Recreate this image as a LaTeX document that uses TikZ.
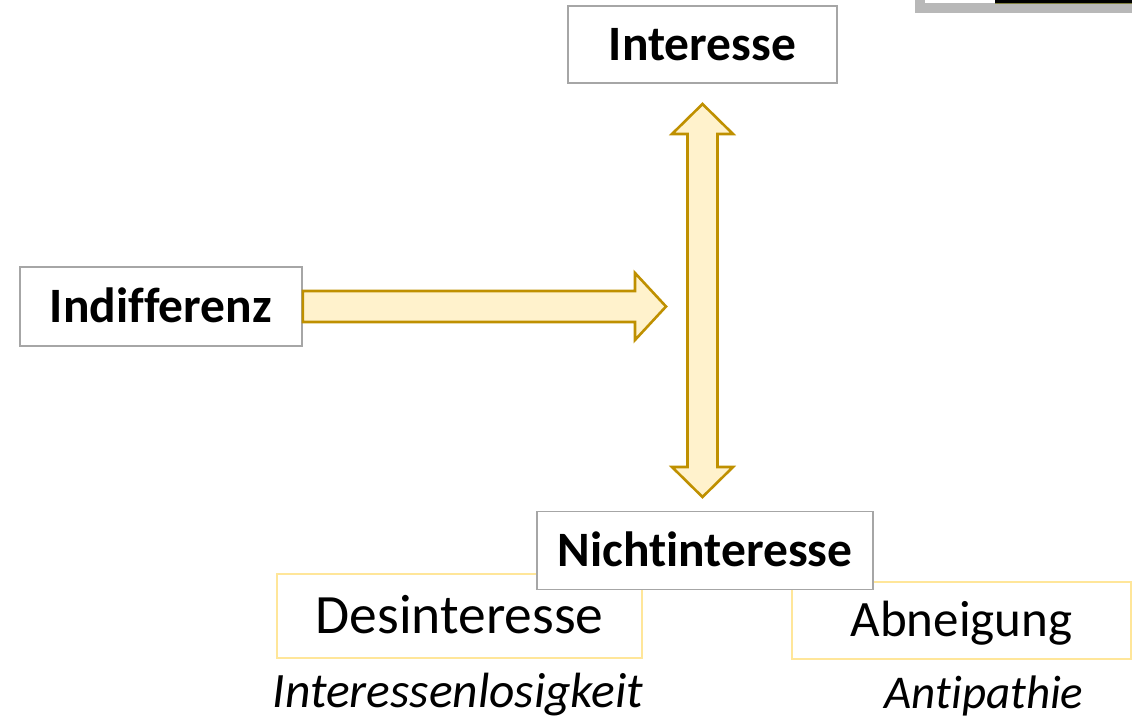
\documentclass[tikz,border=0pt]{standalone}
\usepackage{fontspec}
\setmainfont{Carlito}[Ligatures={NoCommon}]
\usepackage{xcolor}
\usetikzlibrary{positioning, calc}

\definecolor{boxgray}{HTML}{A6A6A6}
\definecolor{arrowfill}{HTML}{FFF2CC}
\definecolor{arrowdraw}{HTML}{BF9000}
\definecolor{paleyellow}{HTML}{FFE699}
\definecolor{olive}{HTML}{7F7F3F}

\begin{document}
\begin{tikzpicture}[
  x=1pt, y=-1pt,
  % ---- Box styles ----
  base/.style={draw, rectangle, fill=white, align=center, inner sep=0pt},
  termbox/.style={base, draw=boxgray, line width=1.6pt,
    font=\fontsize{49.5}{58}\selectfont\bfseries,
    text height=31pt, text depth=0pt},
  subbox/.style={base, draw=paleyellow, line width=1.6pt,
    text depth=0pt},
  lbl/.style={anchor=base, inner sep=0pt,
    font=\fontsize{49.5}{56}\selectfont\itshape},
  % ---- Block arrow style ----
  blockarrow/.style={fill=arrowfill, draw=arrowdraw, line width=2.6pt,
    line join=miter},
]
\useasboundingbox (0,0) rectangle (1132,718);

% ---- Cut-off element at the top right ----
\fill[boxgray!80] (915,0) rectangle (1132,13);
\fill[white] (925,0) rectangle (995,3);
\fill[black] (995,0) rectangle (1132,3);
\draw[olive, line width=0.6pt] (995,3.3) -- (1132,3.3);

% ---- Main terms ----
\node[termbox, minimum width=269pt, minimum height=77pt] (int) at (702.5,44.5) {Interesse};
\node[termbox, minimum width=282pt, minimum height=79pt] (ind) at (161,306.5) {Indifferenz};

% ---- Sub terms (drawn before Nichtinteresse, which overlaps them) ----
\node[subbox, minimum width=365pt, minimum height=84pt,
  font=\fontsize{55.5}{64}\selectfont, text height=35pt] (des) at (459.5,616) {Desinteresse};
\node[subbox, minimum width=339pt, minimum height=77pt,
  font=\fontsize{51}{58}\selectfont, text height=31pt] (abn) at (961.5,620.5) {Abneigung};
\node[termbox, minimum width=336pt, minimum height=78pt] (nicht) at (705,550.5) {Nichtinteresse};

% ---- Italic synonyms ----
\node[lbl] (los) at ($(des.south)+(-1.5,49)$) {Interessenlosigkeit};
\node[lbl, font=\fontsize{47}{52}\selectfont\itshape] (anti) at ($(abn.south)+(22.5,48.5)$) {Antipathie};

% ---- Arrow tips ----
\coordinate (tipR) at (666,306.5);
\coordinate (tipU) at (702.5,104);
\coordinate (tipD) at (702.5,497);

% ---- Indifferenz -> centre ----
\draw[blockarrow]
  ($(ind.east)+(0,-15.5)$) -- ($(tipR)+(-31,-15.5)$) -- ($(tipR)+(-31,-33.5)$)
  -- (tipR) -- ($(tipR)+(-31,33.5)$) -- ($(tipR)+(-31,15.5)$)
  -- ($(ind.east)+(0,15.5)$) -- cycle;

% ---- Interesse <-> Nichtinteresse ----
\draw[blockarrow]
  (tipU) -- ($(tipU)+(30.5,30)$) -- ($(tipU)+(15,30)$)
  -- ($(tipD)+(15,-30)$) -- ($(tipD)+(30.5,-30)$) -- (tipD)
  -- ($(tipD)+(-30.5,-30)$) -- ($(tipD)+(-15,-30)$)
  -- ($(tipU)+(-15,30)$) -- ($(tipU)+(-30.5,30)$) -- cycle;
\end{tikzpicture}
\end{document}
